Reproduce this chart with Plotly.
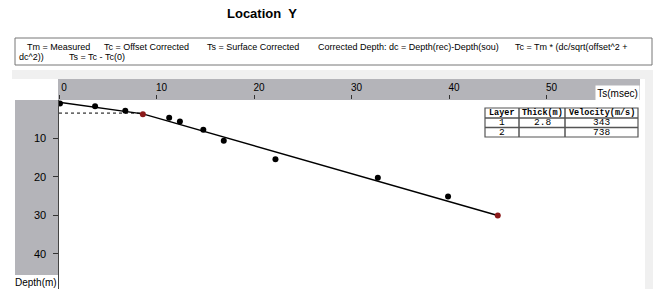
import plotly.graph_objects as go

# ---- data ----
ts_black = [0.1, 3.7, 6.8, 11.3, 12.4, 14.8, 16.9, 22.2, 32.7, 39.9]
depth_black = [0.9, 1.6, 2.8, 4.6, 5.6, 7.7, 10.6, 15.4, 20.2, 25.1]
ts_red = [8.6, 45.0]
depth_red = [3.7, 30.0]
fit_ts = [0.0, 8.6, 45.0]
fit_depth = [0.6, 3.6, 30.0]
layer_ts = [0.0, 8.4]
layer_depth = [3.4, 3.4]
x_ticks = [0, 10, 20, 30, 40, 50]
y_ticks = [10, 20, 30, 40]
table_header = ["Layer", "Thick(m)", "Velocity(m/s)"]
table_layer = ["1", "2"]
table_thick = ["2.8", ""]
table_velocity = ["343", "738"]
legend_line1 = ["Tm = Measured", "Tc = Offset Corrected", "Ts = Surface Corrected",
                "Corrected Depth: dc = Depth(rec)-Depth(sou)", "Tc = Tm * (dc/sqrt(offset^2 +"]
legend_line2 = ["dc^2))", "Ts = Tc - Tc(0)"]

W, H = 653, 289
def px(x):
    return x / W
def py(y):
    return 1 - y / H

GREY = "#b4b4b9"
LIGHT = "#f0f0f0"
FONT = "Liberation Sans"

fig = go.Figure()

fig.add_trace(go.Scatter(x=fit_ts, y=fit_depth, mode="lines",
                         line=dict(color="black", width=1.4), showlegend=False, hoverinfo="skip"))
fig.add_trace(go.Scatter(x=layer_ts, y=layer_depth, mode="lines",
                         line=dict(color="black", width=1, dash="dot"), showlegend=False, hoverinfo="skip"))
fig.add_trace(go.Scatter(x=ts_black, y=depth_black, mode="markers",
                         marker=dict(color="black", size=6), showlegend=False))
fig.add_trace(go.Scatter(x=ts_red, y=depth_red, mode="markers",
                         marker=dict(color="#8b1a1a", size=6), showlegend=False))

shapes = [
    dict(type="rect", xref="paper", yref="paper", x0=px(12), x1=px(653), y0=py(79), y1=py(70),
         fillcolor=LIGHT, line=dict(width=0), layer="below"),
    dict(type="rect", xref="paper", yref="paper", x0=px(58), x1=px(640), y0=py(100), y1=py(79),
         fillcolor=GREY, line=dict(width=0), layer="below"),
    dict(type="rect", xref="paper", yref="paper", x0=px(15), x1=px(58), y0=py(275), y1=py(100),
         fillcolor=GREY, line=dict(width=0), layer="below"),
    dict(type="rect", xref="paper", yref="paper", x0=px(645), x1=px(653), y0=py(289), y1=py(79),
         fillcolor=LIGHT, line=dict(width=0), layer="below"),
    dict(type="rect", xref="paper", yref="paper", x0=px(15), x1=px(652), y0=py(65), y1=py(38),
         fillcolor="white", line=dict(color="#777", width=1), layer="below"),
]

annotations = [
    dict(text="<b>Location  Y</b>", x=px(262), y=py(14), xref="paper", yref="paper",
         xanchor="center", yanchor="middle",
         showarrow=False, font=dict(family=FONT, size=13, color="black")),
    dict(text="Ts(msec)", x=px(617.5), y=py(92.5), xref="paper", yref="paper",
         xanchor="center", yanchor="middle",
         showarrow=False, bgcolor="white", width=41, height=12,
         font=dict(family=FONT, size=10, color="black")),
    dict(text="Depth(m)", x=px(36), y=py(282), xref="paper", yref="paper",
         xanchor="center", yanchor="middle",
         showarrow=False, font=dict(family=FONT, size=10, color="black")),
]

# y tick labels (placed on the depth axis values)
for v in y_ticks:
    annotations.append(dict(text=str(v), x=px(48), y=v, xref="paper", yref="y",
                            xanchor="right", yanchor="middle", showarrow=False,
                            font=dict(family=FONT, size=11, color="black")))

# description text in the box
line1_x = [25, 102, 205, 316, 513]
for t, x0 in zip(legend_line1, line1_x):
    annotations.append(dict(text=t, x=px(x0), y=py(46.5), xref="paper", yref="paper",
                            xanchor="left", yanchor="middle", showarrow=False,
                            font=dict(family=FONT, size=9, color="black")))
line2_x = [17, 67]
for t, x0 in zip(legend_line2, line2_x):
    annotations.append(dict(text=t, x=px(x0), y=py(57), xref="paper", yref="paper",
                            xanchor="left", yanchor="middle", showarrow=False,
                            font=dict(family=FONT, size=9, color="black")))

# small result table drawn with shapes + text
col_edges = [485, 519, 565, 638]
row_edges = [108, 118, 127.5, 137]
shapes.append(dict(type="rect", xref="paper", yref="paper", x0=px(col_edges[0]), x1=px(col_edges[-1]),
                   y0=py(row_edges[-1]), y1=py(row_edges[0]), fillcolor="white",
                   line=dict(color="#555", width=1.2)))
for xe in col_edges[1:-1]:
    shapes.append(dict(type="line", xref="paper", yref="paper", x0=px(xe), x1=px(xe),
                       y0=py(row_edges[-1]), y1=py(row_edges[0]), line=dict(color="#555", width=1.5)))
for ye in row_edges[1:-1]:
    shapes.append(dict(type="line", xref="paper", yref="paper", x0=px(col_edges[0]), x1=px(col_edges[-1]),
                       y0=py(ye), y1=py(ye), line=dict(color="#555", width=1.5)))
columns = [table_layer, table_thick, table_velocity]
for i, head in enumerate(table_header):
    cx = (col_edges[i] + col_edges[i + 1]) / 2
    rows = ["<b>%s</b>" % head] + columns[i]
    for j, val in enumerate(rows):
        cy = (row_edges[j] + row_edges[j + 1]) / 2
        if val == "":
            continue
        annotations.append(dict(text=val, x=px(cx), y=py(cy), xref="paper", yref="paper",
                                xanchor="center", yanchor="middle", showarrow=False,
                                font=dict(family="Liberation Mono", size=8.5 if j == 0 else 9.5,
                                          color="black")))

fig.update_layout(
    width=W, height=H, autosize=False,
    margin=dict(l=0, r=0, t=0, b=0),
    paper_bgcolor="white", plot_bgcolor="white",
    shapes=shapes, annotations=annotations,
    xaxis=dict(domain=[px(59), px(645)], range=[0, 60.1], side="top",
               tickvals=x_ticks, ticks="outside", ticklen=4, tickcolor="#333",
               ticklabelshift=5, ticklabelstandoff=0,
               showgrid=False, zeroline=False, showline=False,
               tickfont=dict(family=FONT, size=10, color="black")),
    yaxis=dict(domain=[py(289), py(100)], range=[49.1, 0],
               tickvals=y_ticks, ticks="outside", ticklen=5, tickcolor="#333",
               showticklabels=False,
               showgrid=False, zeroline=False, showline=True, linecolor="#444", linewidth=1),
)

fig.write_html("out.html", config={"displayModeBar": False},
               post_script="document.body.style.margin='0';document.body.style.overflow='hidden';")
